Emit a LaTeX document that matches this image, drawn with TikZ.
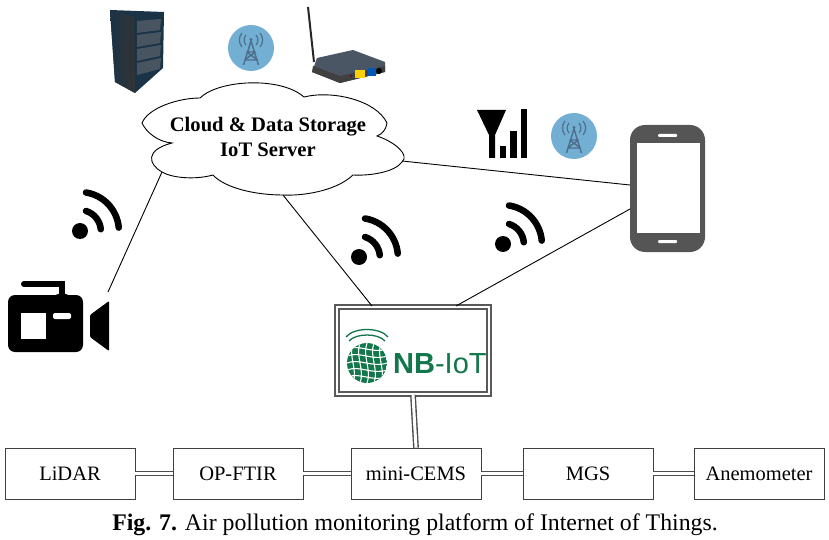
\documentclass[tikz,border=0pt]{standalone}
\usepackage{fontspec}
\setmainfont{Liberation Serif}
\newfontfamily\logofont{Liberation Sans}
\usetikzlibrary{positioning}
\definecolor{nbgreen}{HTML}{12774A}
\definecolor{towerblue}{HTML}{72AFD3}
\definecolor{towergrey}{HTML}{4F6E8C}
\definecolor{phonegrey}{HTML}{555555}
\definecolor{servernavy}{HTML}{1B3347}
\definecolor{routergrey}{HTML}{4A5663}
\tikzset{
  blockbox/.style={draw=black!75, line width=.7pt, minimum width=130pt, minimum height=51pt, inner sep=0pt,
    font=\fontsize{20.5}{25}\selectfont},
  link/.style={draw=black, line width=.9pt},
  doublelink/.style={draw=black!70, line width=1.4pt, double=white, double distance=3pt},
  wifiarc/.style={draw=black, line width=6.5pt, line cap=round},
  pics/wifiicon/.style={code={
    \fill[black] (0,0) circle (8pt);
    \draw[wifiarc] (6pt,20pt) arc (73:5:21pt);
    \draw[wifiarc] (6pt,38.5pt) arc (81:5:39pt);
  }},
  pics/towericon/.style={code={
    \fill[towerblue] (0,0) circle (23pt);
    \draw[towergrey, line width=1.4pt] (-7.5pt,-17pt) -- (0,7pt) -- (7.5pt,-17pt)
      (-4.5pt,-4pt) -- (4.5pt,-4pt) (-6.5pt,-12pt) -- (6.5pt,-12pt)
      (-4.5pt,-4pt) -- (6.5pt,-12pt) (4.5pt,-4pt) -- (-6.5pt,-12pt);
    \fill[towergrey] (0,8.5pt) circle (1.7pt);
    \draw[towergrey, line width=1.2pt]
      (-5pt,13pt) .. controls (-7.5pt,10pt) and (-7.5pt,6pt) .. (-5pt,3pt)
      (5pt,13pt) .. controls (7.5pt,10pt) and (7.5pt,6pt) .. (5pt,3pt)
      (-9pt,15pt) .. controls (-12.5pt,11pt) and (-12.5pt,5pt) .. (-9pt,1pt)
      (9pt,15pt) .. controls (12.5pt,11pt) and (12.5pt,5pt) .. (9pt,1pt);
  }}
}
\begin{document}
\begin{tikzpicture}[x=1pt, y=-1pt]
  \useasboundingbox (0,0) rectangle (829,540);

  % server rack
  \fill[servernavy] (110,10) -- (164,12) -- (163,68) -- (135,93) -- (115,82) -- cycle;
  \shade[left color=servernavy, right color=black!80] (110,10) -- (134,17) -- (135,93) -- (115,82) -- cycle;
  \foreach \y in {0,1,2,3} {
    \fill[gray!45!servernavy] (137,21+14*\y) -- (161,19+13*\y) -- (160,30+13*\y) -- (137,33+14*\y) -- cycle;
  }

  % router
  \draw[black!85, line width=2pt] (308,7) -- (314,62);
  \fill[routergrey] (317,58) -- (353,50) -- (385,62) -- (385,72) -- (340,83) -- (312,72) -- cycle;
  \fill[black!75] (312,72) -- (340,83) -- (385,72) -- (385,66) -- (340,76) -- (313,66) -- cycle;
  \fill[yellow!70!orange] (355,70) rectangle (365,78);
  \fill[blue!50!cyan!70!black] (368,68) rectangle (376,76);
  \fill[black] (379,71) circle (3pt);
  \fill[red!50!black] (351,76) circle (1.2pt);

  \pic at (251,48) {towericon};
  \pic at (574,136) {towericon};

  % cloud
  \draw[fill=white, line width=.9pt] (142,123)
    .. controls (148,108) and (178,98) .. (200,98)
    .. controls (218,80) and (280,76) .. (304,97)
    .. controls (332,90) and (376,100) .. (387,123)
    .. controls (386,130) and (382,134) .. (377,136)
    .. controls (395,142) and (410,155) .. (402,162)
    .. controls (395,172) and (370,176) .. (353,175)
    .. controls (335,192) and (300,196) .. (283,195)
    .. controls (255,195) and (225,188) .. (213,175)
    .. controls (195,180) and (172,178) .. (162,172)
    .. controls (148,164) and (145,150) .. (172,143)
    .. controls (158,142) and (146,132) .. (142,123) -- cycle;
  \node[font=\fontsize{20.6}{25}\selectfont\bfseries, align=center] (cloudtext) at (268,137)
    {Cloud \& Data Storage\\IoT Server};
  \coordinate (cloudleft) at (162,172);
  \coordinate (cloudbottom) at (283,195);
  \coordinate (cloudright) at (402,161);

  % signal bars
  \fill[black] (477,110) -- (506,110) -- (495,135) -- (495,158) -- (489,158) -- (489,135) -- cycle;
  \fill[black] (500,146) rectangle (506,158);
  \fill[black] (510,131) rectangle (517,158);
  \fill[black] (521,109) rectangle (527,158);

  % phone
  \fill[phonegrey, rounded corners=15pt] (630,125) rectangle (705,252);
  \fill[white] (637,143) rectangle (700,233);
  \fill[white, rounded corners=1pt] (658,134) rectangle (677,137);
  \fill[white, rounded corners=1pt] (658,240) rectangle (677,243);
  \coordinate (phoneupper) at (630,185);
  \coordinate (phonelower) at (630,209);

  % camera
  \fill[black, rounded corners=7pt] (8,295) rectangle (83,352);
  \draw[black, line width=6pt, line cap=round] (24,284) -- (62,284) -- (62,298);
  \fill[black] (54,298) .. controls (54,292) and (70,292) .. (70,298) -- cycle;
  \fill[white] (21,313) rectangle (46,339);
  \fill[white, rounded corners=2pt] (53,313) rectangle (71,319);
  \fill[black, rounded corners=1pt] (90,315) -- (109,301) -- (109,351) -- (90,337) -- cycle;
  \coordinate (cameratop) at (108,292);

  \pic at (80,231) {wifiicon};
  \pic at (359,257) {wifiicon};
  \pic at (503,244) {wifiicon};

  % NB-IoT box
  \node[draw=black!65, line width=2pt, double=white, double distance=1.2pt, fill=white,
    minimum width=152pt, minimum height=87pt, inner sep=0pt] (nbiot) at (413,350.5) {};
  \coordinate (nbleft) at (372,306);
  \coordinate (nbright) at (456,306);
  \begin{scope}
    \clip (367,363) circle (20pt);
    \fill[nbgreen] (347,343) rectangle (387,383);
    \foreach \k in {-2,-1,0,1,2} {
      \draw[white, line width=1.1pt] (347,363+7*\k) .. controls (360,358+7*\k) and (372,368+7*\k) .. (387,363+7*\k);
      \draw[white, line width=1.1pt] (367+7*\k,343) .. controls (362+7*\k,356) and (372+7*\k,370) .. (367+7*\k,383);
    }
  \end{scope}
  \draw[nbgreen, line width=1.3pt] (349,341) .. controls (356,333) and (378,333) .. (385,341);
  \draw[nbgreen, line width=1.3pt] (346,337) .. controls (354,327) and (380,327) .. (388,337);
  \node[font=\logofont\fontsize{29}{29}\selectfont, text=nbgreen, inner sep=0pt, anchor=west] (nblogo) at (393,364) {\textbf{NB}-IoT};

  % sensors
  \node[blockbox] (lidar) at (70,473.5) {LiDAR};
  \node[blockbox] (opftir) at (238,473.5) {OP-FTIR};
  \node[blockbox] (minicems) at (416,473.5) {mini-CEMS};
  \node[blockbox] (mgs) at (588,473.5) {MGS};
  \node[blockbox] (anemo) at (759,473.5) {Anemometer};

  \draw[doublelink] (lidar) -- (opftir);
  \draw[doublelink] (opftir) -- (minicems);
  \draw[doublelink] (minicems) -- (mgs);
  \draw[doublelink] (mgs) -- (anemo);
  \draw[doublelink] (nbiot.south) -- (minicems.north);

  \draw[link] (cloudleft) -- (cameratop);
  \draw[link] (cloudbottom) -- (nbleft);
  \draw[link] (cloudright) -- (phoneupper);
  \draw[link] (nbright) -- (phonelower);

  \node[font=\fontsize{23.8}{28}\selectfont] (caption) at (415,525) {\textbf{Fig. 7.} Air pollution monitoring platform of Internet of Things.};
\end{tikzpicture}
\end{document}
